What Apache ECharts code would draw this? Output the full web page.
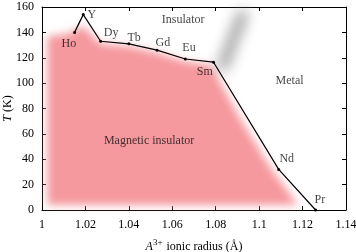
<!DOCTYPE html>
<html>
<head>
<meta charset="utf-8">
<script src="https://cdn.jsdelivr.net/npm/echarts@6/dist/echarts.min.js"></script>
<style>
  html, body { margin: 0; padding: 0; background: #fff; }
  #chart { width: 356px; height: 252px; }
</style>
</head>
<body>
<div id="chart"></div>
<script>
// A3+ ion, ionic radius (Å), transition temperature (K)
const ions = ["Ho", "Y", "Dy", "Tb", "Gd", "Eu", "Sm", "Nd", "Pr"];
const radius = [1.015, 1.019, 1.027, 1.040, 1.053, 1.066, 1.079, 1.109, 1.126];
const tempK = [140, 154, 133, 131, 126, 119, 116.5, 32, 0];
// where the ion names sit
const ionLabelX = [1.0124, 1.023, 1.0318, 1.0424, 1.0557, 1.0677, 1.075, 1.1127, 1.128];
const ionLabelY = [131, 153.5, 140, 136, 132, 127.5, 109, 40, 8];

// phase names
const regionNames = ["Insulator", "Metal", "Magnetic insulator"];
const regionX = [1.065, 1.114, 1.0493];
const regionY = [149.5, 101.5, 54.5];

// outline of the (blurred) magnetic insulator region
const magX = [1.0025, 1.0025, 1.012, 1.019, 1.027, 1.040, 1.053, 1.066, 1.078, 1.091, 1.105, 1.118];
const magY = [4, 137, 139, 145, 131, 129, 124, 117, 114, 73, 34, 4];

// grey smudge above Sm
const smudgeX = [1.0832, 1.0924];
const smudgeY = [113, 154];

// axes
const xMin = 1, xMax = 1.14, xStep = 0.02;
const yMin = 0, yMax = 160, yStep = 20;

const FONT = "Liberation Serif";
const SHIFT = 2000; // draw shape off-canvas, keep only its blurred shadow

function blurred(xs, ys, kind, color, blur, width) {
  return {
    type: "custom",
    coordinateSystem: "cartesian2d",
    silent: true,
    clip: false,
    z: 1,
    data: [[xs[0], ys[0]]],
    renderItem: function (params, api) {
      const pts = xs.map(function (x, i) {
        const p = api.coord([x, ys[i]]);
        return [p[0] - SHIFT, p[1]];
      });
      const style = {
        shadowBlur: blur,
        shadowColor: color,
        shadowOffsetX: SHIFT
      };
      if (kind === "polygon") {
        style.fill = color;
      } else {
        style.fill = null;
        style.stroke = color;
        style.lineWidth = width;
        style.lineCap = "round";
      }
      return { type: kind, shape: { points: pts }, style: style };
    }
  };
}

const chart = echarts.init(document.getElementById("chart"));

const axisCommon = {
  type: "value",
  axisLine: { show: true, onZero: false, lineStyle: { color: "#000", width: 1 } },
  axisTick: { show: true, inside: true, length: 4, lineStyle: { color: "#000" } },
  splitLine: { show: false }
};

chart.setOption({
  animation: false,
  textStyle: { fontFamily: FONT },
  grid: { left: 42, right: 10, top: 7, bottom: 42, containLabel: false, outerBoundsMode: "none" },
  xAxis: [
    Object.assign({}, axisCommon, {
      min: xMin, max: xMax, interval: xStep,
      position: "bottom",
      axisLabel: { color: "#000", fontFamily: FONT, fontSize: 12, margin: 9 },
      name: "{i|A}{sup|3+} ionic radius (Å)",
      nameLocation: "middle",
      nameGap: 28,
      nameMoveOverlap: false,
      nameTextStyle: {
        color: "#000", fontFamily: FONT, fontSize: 12,
        rich: {
          i: { fontFamily: FONT, fontSize: 12, fontStyle: "italic", color: "#000" },
          sup: { fontFamily: FONT, fontSize: 9, color: "#000", padding: [0, 1, 8, 0] }
        }
      }
    }),
    Object.assign({}, axisCommon, {
      min: xMin, max: xMax, interval: xStep,
      position: "top",
      axisLabel: { show: false }
    })
  ],
  yAxis: [
    Object.assign({}, axisCommon, {
      min: yMin, max: yMax, interval: yStep,
      position: "left",
      axisLabel: { color: "#000", fontFamily: FONT, fontSize: 12, margin: 8 },
      name: "{i|T} (K)",
      nameLocation: "middle",
      nameGap: 28,
      nameMoveOverlap: false,
      nameTextStyle: {
        color: "#000", fontFamily: FONT, fontSize: 12,
        rich: {
          i: { fontFamily: FONT, fontSize: 12, fontStyle: "italic", color: "#000" }
        }
      }
    }),
    Object.assign({}, axisCommon, {
      min: yMin, max: yMax, interval: yStep,
      position: "right",
      axisLabel: { show: false }
    })
  ],
  series: [
    blurred(magX, magY, "polygon", "#f5999e", 9),
    blurred(smudgeX, smudgeY, "polyline", "#8c8c8c", 14, 9),
    {
      type: "line",
      z: 3,
      data: radius.map(function (r, i) { return [r, tempK[i]]; }),
      lineStyle: { color: "#000", width: 1.2 },
      itemStyle: { color: "#000" },
      symbol: "circle",
      symbolSize: 3,
      showSymbol: true
    },
    {
      type: "scatter",
      z: 4,
      symbolSize: 0,
      silent: true,
      data: ions.map(function (n, i) { return { name: n, value: [ionLabelX[i], ionLabelY[i]] }; }),
      label: {
        show: true, position: "inside", formatter: "{b}",
        color: "#111", fontFamily: FONT, fontSize: 12
      }
    },
    {
      type: "scatter",
      z: 4,
      symbolSize: 0,
      silent: true,
      data: regionNames.map(function (n, i) { return { name: n, value: [regionX[i], regionY[i]] }; }),
      label: {
        show: true, position: "inside", formatter: "{b}",
        color: "#111", fontFamily: FONT, fontSize: 12
      }
    }
  ]
});
</script>
</body>
</html>
